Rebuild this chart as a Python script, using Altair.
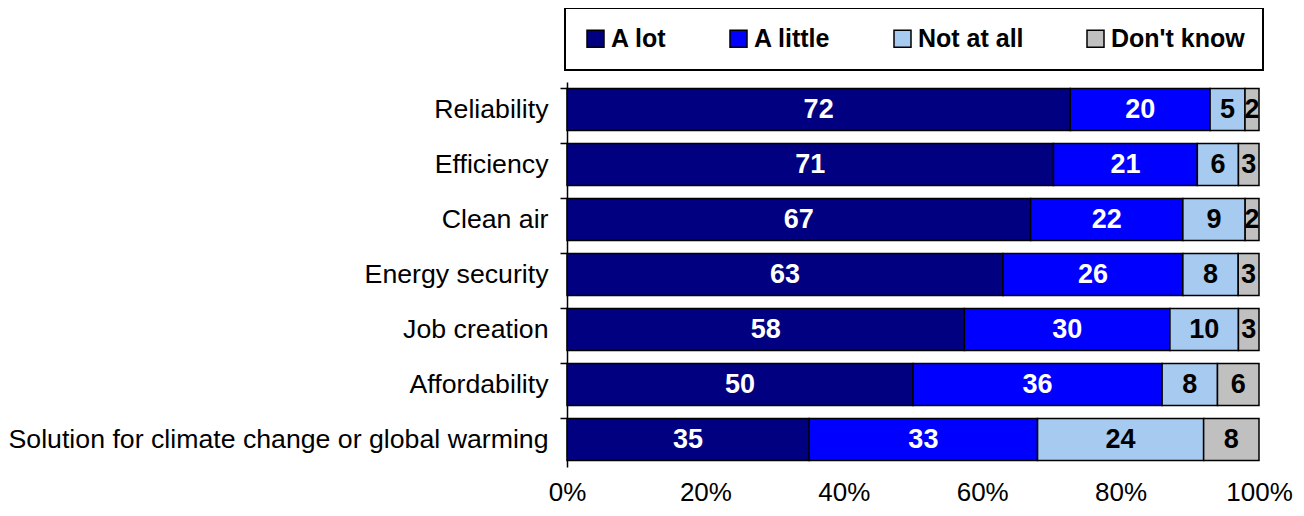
import altair as alt
import pandas as pd

items = ["Reliability", "Efficiency", "Clean air", "Energy security",
         "Job creation", "Affordability",
         "Solution for climate change or global warming"]
responses = ["A lot", "A little", "Not at all", "Don't know"]
a_lot = [72, 71, 67, 63, 58, 50, 35]
a_little = [20, 21, 22, 26, 30, 36, 33]
not_at_all = [5, 6, 9, 8, 10, 8, 24]
dont_know = [2, 3, 2, 3, 3, 6, 8]
colors = ["#000080", "#0000FF", "#A6CAF0", "#C0C0C0"]

rows = []
for i, it in enumerate(items):
    for k, (resp, vals) in enumerate(zip(responses, [a_lot, a_little, not_at_all, dont_know])):
        rows.append({"item": it, "response": resp, "value": vals[i], "ord": k})
df = pd.DataFrame(rows)

FONT = "Liberation Sans"

base = alt.Chart(df).transform_joinaggregate(
    total="sum(value)", groupby=["item"]
).transform_calculate(
    pct="datum.value / datum.total"
).transform_stack(
    stack="pct", groupby=["item"], as_=["x0", "x1"],
    sort=[alt.SortField("ord", order="ascending")]
).transform_calculate(
    mid="(datum.x0 + datum.x1) / 2"
)

yenc = alt.Y("item:N", sort=items, title=None,
             scale=alt.Scale(paddingInner=0.236, paddingOuter=0.118),
             axis=alt.Axis(labelFontSize=26.7, labelColor="black", labelFont=FONT,
                           labelPadding=12, tickSize=7, tickColor="black",
                           tickWidth=1.5, domainColor="black", domainWidth=1.5,
                           bandPosition=0, labelLimit=700))

bars = base.mark_bar(stroke="black", strokeWidth=1.5).encode(
    x=alt.X("x0:Q", scale=alt.Scale(domain=[0, 1]), title=None,
            axis=alt.Axis(format=".0%", values=[0, 0.2, 0.4, 0.6, 0.8, 1.0],
                          domain=False, ticks=False, grid=False, labelFlush=False,
                          labelFontSize=26, labelColor="black", labelFont=FONT,
                          labelPadding=12)),
    x2="x1:Q",
    y=yenc,
    color=alt.Color("response:N", sort=responses,
                    scale=alt.Scale(domain=responses, range=colors),
                    legend=alt.Legend(title=None, orient="none", direction="horizontal",
                                      columns=4, legendX=-2, legendY=-74,
                                      symbolType="square", symbolSize=289,
                                      symbolStrokeColor="black", symbolStrokeWidth=1.5,
                                      labelFontSize=25, labelFontWeight="bold",
                                      labelFont=FONT, labelColor="black",
                                      labelOffset=3, columnPadding=59,
                                      padding=18, strokeColor="black",
                                      symbolOpacity=1)),
)

labels = base.mark_text(fontSize=27, fontWeight="bold", font=FONT).encode(
    x=alt.X("mid:Q"),
    y=alt.Y("item:N", sort=items),
    text=alt.Text("value:Q"),
    color=alt.condition("datum.ord < 2", alt.value("white"), alt.value("black")),
)

chart = alt.layer(bars, labels).properties(
    width=692, height=385,
    autosize=alt.AutoSizeParams(type="none"),
    padding={"left": 559, "top": 74, "right": 36, "bottom": 41},
).configure_view(stroke=None).configure_legend(strokeWidth=2)

chart.save("out.html", embed_options={"renderer": "svg", "actions": False})
